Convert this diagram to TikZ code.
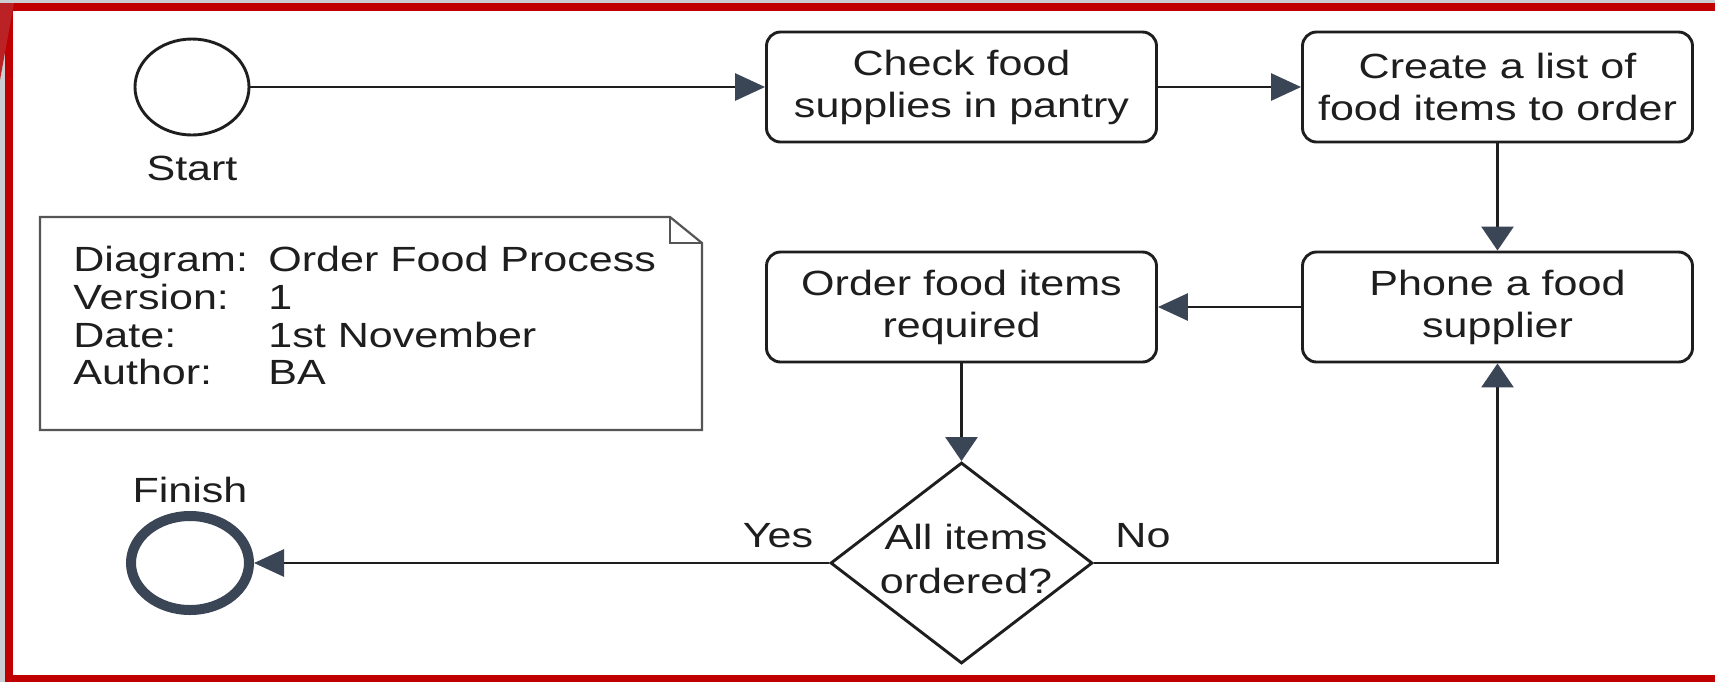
\documentclass[tikz,border=0pt]{standalone}
\usepackage{fontspec}
\setmainfont{Liberation Sans}[FakeStretch=1.23]
\usetikzlibrary{arrows.meta,shapes.geometric}
\definecolor{framered}{RGB}{192,0,0}
\definecolor{cornerred}{RGB}{186,34,38}
\definecolor{edgegray}{RGB}{204,207,210}
\definecolor{slate}{RGB}{58,69,86}
\definecolor{ink}{RGB}{30,30,30}
\definecolor{notegray}{RGB}{85,85,85}

\tikzset{
  boxfont/.style={font=\fontsize{17.5pt}{21pt}\selectfont},
  process/.style={draw=ink, line width=1.45pt, rounded corners=7pt,
    minimum width=195pt, minimum height=55pt, align=center, inner sep=0pt,
    boxfont, text=ink},
  startev/.style={ellipse, draw=ink, line width=1.45pt, minimum width=57pt,
    minimum height=48pt, inner sep=0pt},
  endev/.style={ellipse, draw=slate, line width=5pt, minimum width=59pt,
    minimum height=47pt, inner sep=0pt},
  decision/.style={diamond, draw=ink, line width=1.45pt, minimum width=131pt,
    minimum height=100.5pt, inner sep=0pt},
  caption/.style={boxfont, text=ink, inner sep=0pt},
  flow/.style={draw=ink, line width=1.45pt},
  harrow/.style={-{Triangle[length=15pt,width=13.5pt,color=slate]}},
  varrow/.style={-{Triangle[length=12pt,width=16pt,color=slate]}},
}

\begin{document}
\begin{tikzpicture}[x=0.5pt,y=-0.5pt]
\useasboundingbox (0,0) rectangle (1715,682);

% page edge and red frame
\fill[white] (0,0) rectangle (1715,682);
\fill[edgegray] (0,0) rectangle (1715,3);
\fill[edgegray] (0,0) rectangle (5,682);
\fill[framered] (5,3) rectangle (1715,11);
\fill[framered] (5,3) rectangle (13,682);
\fill[framered] (5,675) rectangle (1715,682);
\fill[cornerred] (0,3) -- (14,3) -- (0,80) -- cycle;

% events
\node[startev] (start) at (192,87) {};
\node[caption, anchor=base] (startlbl) at (192,180) {Start};
\node[endev] (finish) at (190,563) {};
\node[caption, anchor=base] (finishlbl) at (190,502) {Finish};

% activities
\node[process] (check) at (961.5,87) {Check food\\supplies in pantry};
\node[process] (create) at (1497.5,87) {Create a list of\\food items to order};
\node[process] (phone) at (1497.5,307) {Phone a food\\supplier};
\node[process] (order) at (961.5,307) {Order food items\\required};

% gateway
\node[decision] (dec) at (961.5,563) {};
\node[caption, align=center, font=\fontsize{17.5pt}{22pt}\selectfont]
  (dectext) at (966,559) {All items\\ordered?};

% flows
\draw[flow, harrow] (start) -- (check);
\draw[flow, harrow] (check) -- (create);
\draw[flow, varrow] (create) -- (phone);
\draw[flow, harrow] (phone) -- (order);
\draw[flow, varrow] (order) -- (dec);
\draw[flow, harrow] (dec.west) -- (finish.east);
\draw[flow, varrow] (dec.east) -| (phone.south);
\node[caption, anchor=base] (yeslbl) at (778,547) {Yes};
\node[caption, anchor=base] (nolbl) at (1143,547) {No};

% annotation with folded corner
\draw[notegray, line width=1.1pt, line join=miter]
  (40,217) -- (670,217) -- (702,243) -- (702,430) -- (40,430) -- cycle;
\draw[notegray, line width=1.1pt] (670,217) -- (670,243) -- (702,243);
\node[caption, anchor=north west, align=left,
  font=\fontsize{17.5pt}{18.85pt}\selectfont] (noteinfo) at (73,246)
  {\makebox[97.5pt][l]{Diagram:}Order Food Process\\
   \makebox[97.5pt][l]{Version:}1\\
   \makebox[97.5pt][l]{Date:}1st November\\
   \makebox[97.5pt][l]{Author:}BA};
\end{tikzpicture}
\end{document}
